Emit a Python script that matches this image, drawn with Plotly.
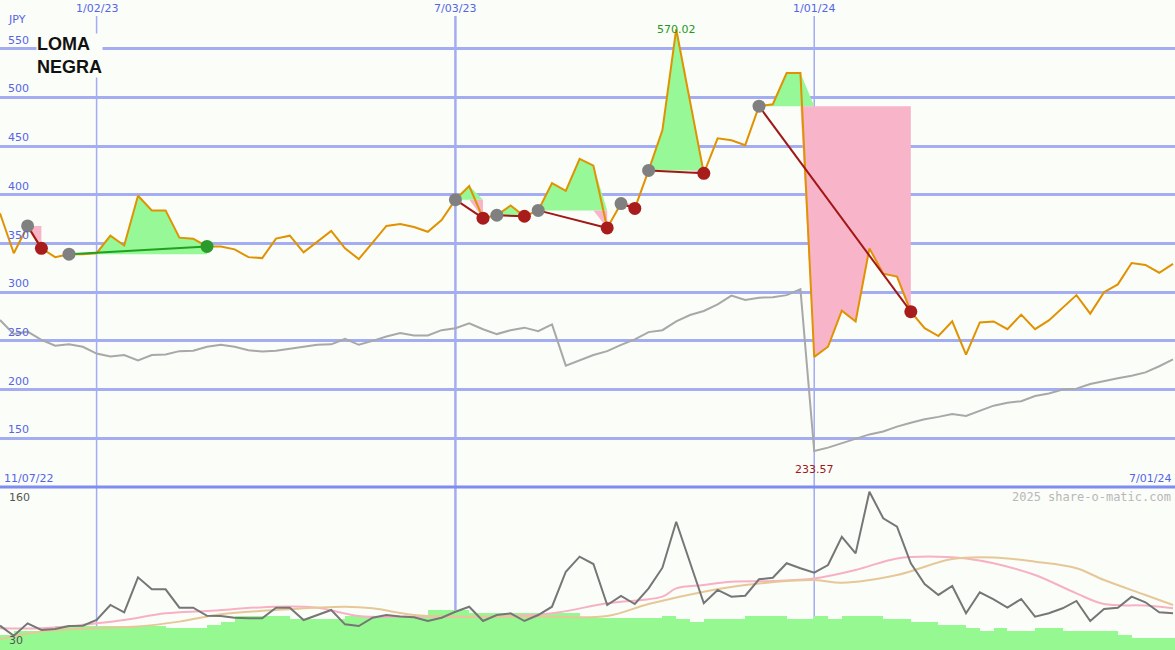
import pandas as pd
import plotly.graph_objects as go

# weekly dates
dates = pd.date_range("2022-11-14", periods=86, freq="7D")

# price (JPY)
price = [381, 340, 368, 345, 336, 339, 339, 340, 358, 348, 399, 384, 384, 356, 355, 347,
         347, 344, 336, 335, 355, 358, 341, 352, 363, 345, 334, 351, 368, 370, 367, 362,
         374, 395, 409, 376, 379, 389, 378, 384, 412, 404, 437, 430, 366, 391, 386, 425,
         466.5, 570.02, 497, 422, 458, 456, 451, 491, 493, 525, 525, 233.57, 244, 281, 270, 345,
         319, 316, 280, 263, 255, 270, 236, 269, 270, 262, 277, 262, 271, 283.5, 297, 278,
         300, 308, 330, 328, 320, 329]

# comparison index (scaled)
bench = [271.5, 257, 259.5, 251, 245, 246.5, 244, 237, 234, 235.5, 230, 235.5, 236, 239.5, 240, 244,
         246, 244, 240.5, 239, 240, 241.7, 244, 246, 246.5, 252, 246, 250, 254.5, 258, 255.5, 255.5,
         261, 263, 268, 262, 257, 261, 263.6, 260, 267, 224.6, 230, 235.5, 239.5, 246, 251.6, 259,
         261, 270, 276.6, 280.7, 287.5, 296.5, 292, 294.4, 294.7, 297, 303, 137, 140.4, 145, 150, 154,
         157, 162, 166, 169.5, 172, 175, 173, 178, 183.5, 186.6, 188, 193.4, 196, 200, 201, 205.7,
         209, 211.6, 214.3, 217.7, 224, 231]

# volume panel
volume = [49.9, 41.7, 51.8, 46.4, 47.2, 49.6, 49.9, 54.5, 66.8, 60.8, 89.4, 79.6, 79.6, 64.6, 64.6, 58,
          57.8, 56.4, 55.9, 55.9, 64.6, 64.6, 54.5, 58.6, 62.7, 51, 49.6, 56.4, 58.6, 57.3, 56.7, 53.7,
          56.4, 61.3, 65.4, 53.7, 58.6, 60, 53.7, 58.6, 65.4, 94, 106.3, 100.3, 66.8, 74.2, 67.6, 80.4,
          97.3, 134.9, 100.9, 68.2, 79.1, 73.6, 74.4, 87.8, 89.1, 100.9, 96.8, 93.2, 99.5, 122.6, 109, 159.4,
          137.7, 130.8, 100.9, 84, 75, 82.3, 60, 77.2, 71.4, 64.6, 71.7, 57.3, 60, 64.1, 70.1, 53.7,
          63.5, 64.6, 73.6, 69, 60.8, 60]
vol_bars = [42.3, 45.5, 45.5, 45.5, 49.9, 49.9, 49.9, 49.9, 49.9, 49.9, 49.9, 49.9, 48.3, 48.3, 48.3, 50.4,
            53.2, 57.8, 57.8, 57.8, 57.8, 55.3, 55.3, 55.3, 55.3, 58, 58, 58, 58, 58, 58, 62.7,
            62.7, 62.7, 60, 60, 60, 60, 60, 60, 60, 60, 56.4, 56.4, 56.4, 56.4, 56.4, 56.4, 57.8,
            55.3, 53.2, 55.3, 55.3, 55.3, 57.8, 57.8, 57.8, 55.3, 55.3, 57.8, 55.3, 57.8, 57.8, 57.8,
            55.3, 55.3, 52.7, 52.7, 50.4, 50.4, 47.8, 45.5, 47.8, 45.5, 45.5, 47.8, 47.8, 45.5, 45.5,
            45.5, 45.5, 42.3, 39.5, 39.5, 39.5, 39.5]
# moving averages, read at sparse weeks
ma_short_idx = [0, 3, 7, 9, 12, 15, 20, 23, 26, 30, 36, 40, 44, 48, 49, 51, 53, 56, 59, 62, 65, 68, 70, 72, 75, 78, 80, 83, 85]
ma_short = [47.8, 47.8, 51.8, 54.5, 60, 61.9, 65.4, 64.6, 57.8, 57.3, 57.3, 60, 68.2, 73.6, 80.4, 83.1, 85.8,
            86.4, 88.5, 95.4, 104.9, 106.3, 104.9, 100.9, 91.3, 76.3, 67.6, 66.3, 64.1]
ma_long_idx = [0, 3, 7, 10, 13, 16, 20, 25, 27, 30, 33, 39, 44, 47, 51, 54, 59, 61, 65, 69, 72, 75, 78, 80, 83, 85]
ma_long = [39, 45.1, 47.8, 49.2, 53.2, 59.2, 62.7, 65.4, 64.1, 58.6, 57.3, 57.3, 57.8, 67.6, 77.7, 83.1, 87.2,
           85, 91.3, 104.4, 105.7, 102.2, 96.8, 87.2, 75, 66.8]

# trades: entry week, exit week
trade_entry = [2, 5, 33, 36, 39, 45, 47, 55]
trade_exit = [3, 15, 35, 38, 44, 46, 51, 66]

grid_c = "#a4acf2"
label_c = "#5565e6"
bg = "#fbfdf9"
H = 650
split = 163 / H

fig = go.Figure()

# profit / loss fills
for a, b in zip(trade_entry, trade_exit):
    p = price[a]
    xs = dates[a:b + 1]
    seg = price[a:b + 1]
    base = [p] * len(seg)
    up = [max(v, p) for v in seg]
    lo = [min(v, p) for v in seg]
    fig.add_trace(go.Scatter(x=xs, y=base, mode="lines", line=dict(width=0), showlegend=False, hoverinfo="skip"))
    fig.add_trace(go.Scatter(x=xs, y=up, mode="lines", line=dict(width=0), fill="tonexty",
                             fillcolor="#96f896", showlegend=False, hoverinfo="skip"))
    fig.add_trace(go.Scatter(x=xs, y=base, mode="lines", line=dict(width=0), showlegend=False, hoverinfo="skip"))
    fig.add_trace(go.Scatter(x=xs, y=lo, mode="lines", line=dict(width=0), fill="tonexty",
                             fillcolor="#f8b4c8", showlegend=False, hoverinfo="skip"))

fig.add_trace(go.Scatter(x=dates, y=bench, mode="lines", line=dict(color="#a8a8a8", width=2), showlegend=False))
fig.add_trace(go.Scatter(x=dates, y=price, mode="lines", line=dict(color="#e09200", width=2), showlegend=False))

# trade lines and dots
for a, b in zip(trade_entry, trade_exit):
    win = price[b] > price[a]
    col = "#22a022" if win else "#a01818"
    fig.add_trace(go.Scatter(x=[dates[a], dates[b]], y=[price[a], price[b]], mode="lines",
                             line=dict(color=col, width=2), showlegend=False))
    fig.add_trace(go.Scatter(x=[dates[a]], y=[price[a]], mode="markers",
                             marker=dict(color="#808080", size=13), showlegend=False))
    fig.add_trace(go.Scatter(x=[dates[b]], y=[price[b]], mode="markers",
                             marker=dict(color="#2a9a2a" if win else "#a81c1c", size=13), showlegend=False))

# volume panel
fig.add_trace(go.Bar(x=dates, y=vol_bars, width=7 * 86400000, offset=0, marker=dict(color="#96f890", line=dict(width=0)),
                     yaxis="y2", showlegend=False))
fig.add_trace(go.Scatter(x=[dates[i] for i in ma_short_idx], y=ma_short, mode="lines", line=dict(color="#f8b0c4", width=2, shape="spline"),
                         yaxis="y2", showlegend=False))
fig.add_trace(go.Scatter(x=[dates[i] for i in ma_long_idx], y=ma_long, mode="lines", line=dict(color="#e6c898", width=2, shape="spline"),
                         yaxis="y2", showlegend=False))
fig.add_trace(go.Scatter(x=dates, y=volume, mode="lines", line=dict(color="#767676", width=2),
                         yaxis="y2", showlegend=False))

xr = [dates[0], pd.Timestamp("2024-07-02")]
fig.update_layout(
    width=1175, height=H, margin=dict(l=0, r=0, t=0, b=0),
    paper_bgcolor=bg, plot_bgcolor=bg, bargap=0,
    font=dict(family="DejaVu Sans", size=11),
    xaxis=dict(range=xr, showgrid=False, showticklabels=False, zeroline=False),
    yaxis=dict(domain=[split, 1], range=[100, 600], tickvals=list(range(150, 551, 50)),
               showgrid=True, gridcolor=grid_c, gridwidth=2.5, showticklabels=False, zeroline=False),
    yaxis2=dict(domain=[0, 159 / H], range=[30, 160], showgrid=False, showticklabels=False, zeroline=False),
)

shapes = []
for d, w in [("2023-01-02", 1.5), ("2023-07-03", 2.5), ("2024-01-01", 1.5)]:
    shapes.append(dict(type="line", xref="x", yref="paper", x0=d, x1=d, y0=0, y1=(H - 16) / H,
                       line=dict(color=grid_c, width=w), layer="below"))
shapes.append(dict(type="line", xref="paper", yref="paper", x0=0, x1=1, y0=split, y1=split,
                   line=dict(color="#7f8cf0", width=3)))
fig.update_layout(shapes=shapes)

ann = []
for v in range(150, 551, 50):
    ann.append(dict(x=0.005, xref="paper", y=v, yref="y", text=str(v), showarrow=False,
                    xanchor="left", yanchor="bottom", font=dict(color=label_c, size=11)))
ann.append(dict(x=0.005, xref="paper", y=1, yref="paper", yshift=-19, text="JPY", showarrow=False,
                xanchor="left", yanchor="middle", font=dict(color=label_c, size=11)))
for d, t in [("2023-01-02", "1/02/23"), ("2023-07-03", "7/03/23"), ("2024-01-01", "1/01/24")]:
    ann.append(dict(x=d, xref="x", y=1, yref="paper", yshift=-8, text=t, showarrow=False,
                    xanchor="center", yanchor="middle", font=dict(color=label_c, size=11)))
ann.append(dict(x=0.002, xref="paper", y=split, yref="paper", yshift=9, text="11/07/22", showarrow=False,
                xanchor="left", yanchor="middle", font=dict(color=label_c, size=11)))
ann.append(dict(x=0.998, xref="paper", y=split, yref="paper", yshift=9, text="7/01/24", showarrow=False,
                xanchor="right", yanchor="middle", font=dict(color=label_c, size=11)))
imax = price.index(max(price))
imin = price.index(min(price))
ann.append(dict(x=dates[imax], y=1, xref="x", yref="paper", yshift=-21, text=f"{max(price):.2f}", showarrow=False,
                font=dict(color="#229922", size=11)))
ann.append(dict(x=dates[imin], y=split, xref="x", yref="paper", yshift=9, text=f"{min(price):.2f}", showarrow=False,
                font=dict(color="#a01818", size=11)))
ann.append(dict(x=0.006, xref="paper", y=split, yref="paper", yshift=-10, text="160", showarrow=False,
                xanchor="left", yanchor="middle", font=dict(color="#555555", size=11)))
ann.append(dict(x=0.006, xref="paper", y=0, yref="paper", yshift=10, text="30", showarrow=False,
                xanchor="left", yanchor="middle", font=dict(color="#555555", size=11)))
ann.append(dict(x=0.998, xref="paper", y=split, yref="paper", yshift=-10, text="2025 share-o-matic.com", showarrow=False,
                xanchor="right", yanchor="middle", font=dict(color="#b8b8b8", size=12, family="DejaVu Sans Mono")))
ann.append(dict(x=36 / 1175, xref="paper", y=1, yref="paper", yshift=-55, text="<b>LOMA<br>NEGRA</b>", showarrow=False,
                xanchor="left", yanchor="middle", align="left", bgcolor=bg, borderpad=0,
                font=dict(color="#111111", size=18, family="Liberation Sans, Arial")))
fig.update_layout(annotations=ann)

fig.write_html("out.html", config={"displayModeBar": False},
               post_script="document.body.style.margin='0';")
